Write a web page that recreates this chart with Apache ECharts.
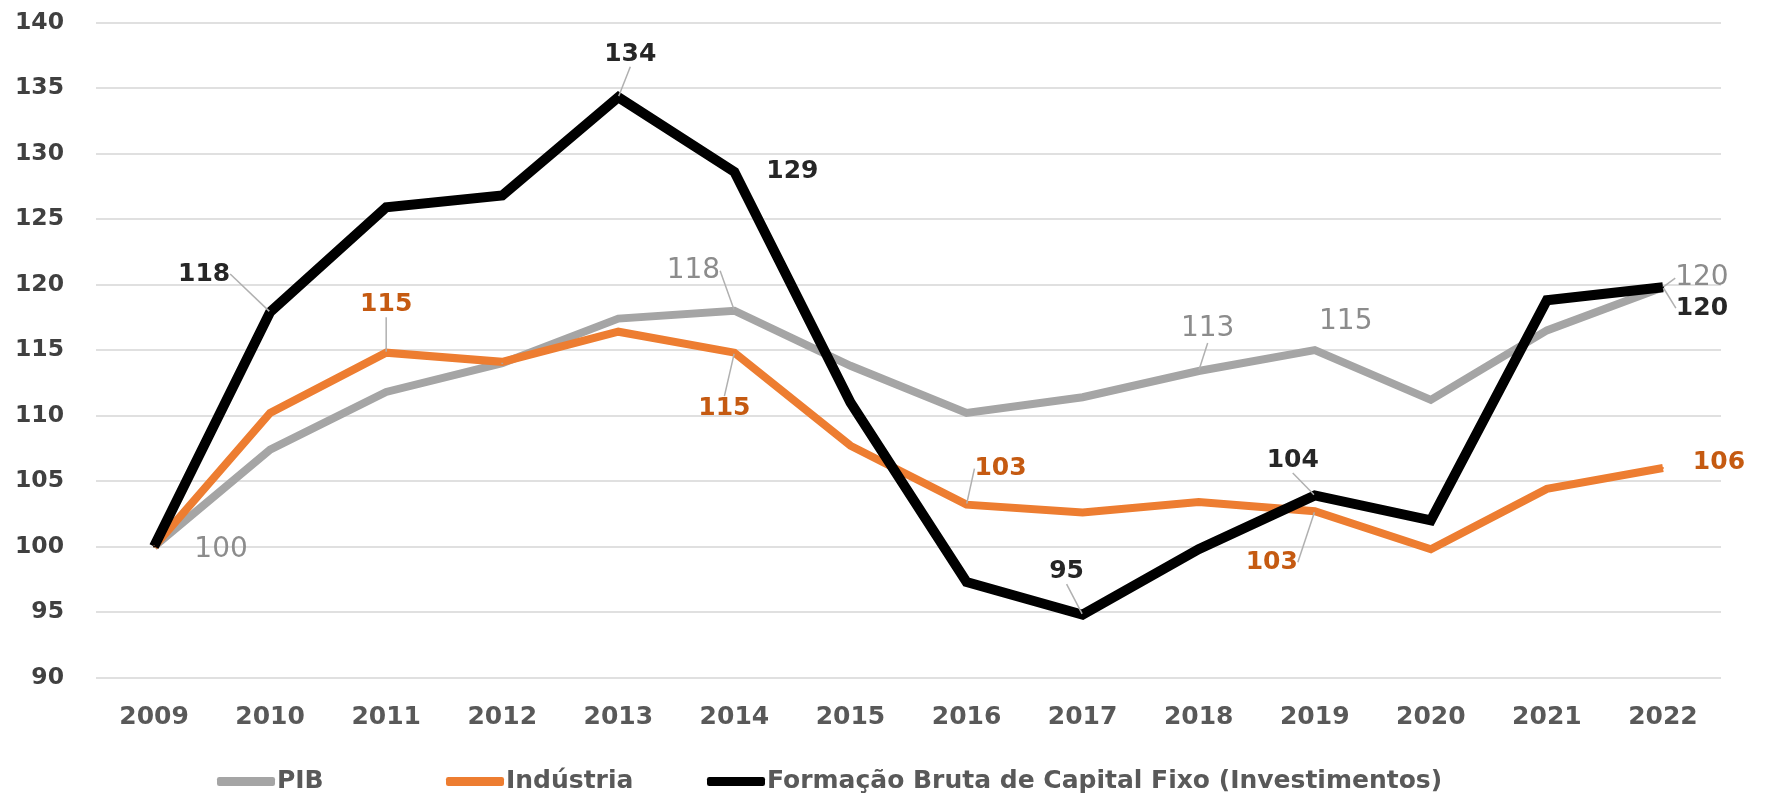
<!DOCTYPE html>
<html>
<head>
<meta charset="utf-8">
<script src="https://cdn.jsdelivr.net/npm/echarts@6/dist/echarts.min.js"></script>
<style>
  html, body { margin: 0; padding: 0; background: #fff; }
  #chart { width: 1767px; height: 796px; }
</style>
</head>
<body>
<div id="chart"></div>
<script>
// anos (eixo x)
var years = ['2009', '2010', '2011', '2012', '2013', '2014', '2015',
             '2016', '2017', '2018', '2019', '2020', '2021', '2022'];
// índices, 2009 = 100
var pib = [100, 107.4, 111.8, 114.0, 117.4, 118.0, 113.8, 110.2, 111.4, 113.4, 115.0, 111.2, 116.5, 119.8];
var industria = [100, 110.2, 114.8, 114.1, 116.4, 114.8, 107.7, 103.2, 102.6, 103.4, 102.7, 99.8, 104.4, 106.0];
var fbcf = [100, 117.9, 125.9, 126.8, 134.3, 128.6, 111.0, 97.3, 94.8, 99.8, 103.9, 102.0, 118.8, 119.8];
// pontos com rótulo
var pibLabelIdx = [0, 5, 9, 10, 13];
var industriaLabelIdx = [2, 5, 7, 10, 13];
var fbcfLabelIdx = [1, 4, 5, 8, 10, 13];
var yTicks = [90, 140, 5];
var seriesNames = ['PIB', 'Indústria', 'Formação Bruta de Capital Fixo (Investimentos)'];

var FONT = '"DejaVu Sans", Verdana, sans-serif';

/**
 * deslocamento de cada rótulo em relação ao ponto
 */
var labelOffsets = {
    pib: {0: [67, 3], 5: [-41, -40], 9: [9, -42], 10: [31, -28], 13: [39, -9]},
    ind: {2: [0, -48], 5: [-10, 56], 7: [34, -36], 10: [-43, 51], 13: [56, -5]},
    fbcf: {1: [-66, -38], 4: [12, -43], 5: [58, 0], 8: [-16, -43], 10: [-22, -35], 13: [39, 21]}
};
// pontos sem linha guia
var noGuide = {pib: [0, 10], ind: [13], fbcf: [5]};

function buildData(values, labelIdx, key) {
    return values.map(function (v, i) {
        var d = {
            value: v,
            label: {show: labelIdx.indexOf(i) >= 0}
        };
        if (noGuide[key].indexOf(i) >= 0) {
            d.labelLine = {show: false};
        }
        return d;
    });
}

function makeSeries(name, key, values, labelIdx, color, width, labelStyle) {
    return {
        name: name,
        type: 'line',
        data: buildData(values, labelIdx, key),
        symbol: 'circle',
        symbolSize: 2,
        showSymbol: true,
        lineStyle: {color: color, width: width, join: 'miter'},
        itemStyle: {color: color},
        emphasis: {disabled: true},
        label: Object.assign({
            position: 'inside',
            fontFamily: FONT,
            formatter: function (p) { return Math.round(p.value); }
        }, labelStyle),
        labelLine: {
            show: true,
            lineStyle: {color: '#b0b0b0', width: 1.5}
        },
        labelLayout: function (params) {
            var off = labelOffsets[key][params.dataIndex] || [0, 0];
            return {dx: off[0], dy: off[1], hideOverlap: false};
        }
    };
}

// uma legenda por série, para acertar as posições
function makeLegend(name, left) {
    return {
        left: left,
        top: 764,
        icon: 'roundRect',
        itemWidth: 58,
        itemHeight: 9,
        textStyle: {fontFamily: FONT, fontSize: 25, fontWeight: 'bold', color: '#595959', padding: [0, 0, 0, -3]},
        data: [name]
    };
}

var chart = echarts.init(document.getElementById('chart'));

var option = {
    backgroundColor: '#ffffff',
    animation: false,
    grid: {left: 96, right: 46, top: 22.5, bottom: 118.4},
    legend: [
        makeLegend(seriesNames[0], 212),
        makeLegend(seriesNames[1], 441),
        makeLegend(seriesNames[2], 702)
    ],
    xAxis: {
        type: 'category',
        data: years,
        boundaryGap: true,
        axisLine: {show: false},
        axisTick: {show: false},
        axisLabel: {
            margin: 27,
            fontFamily: FONT, fontSize: 25, fontWeight: 'bold', color: '#595959'
        }
    },
    yAxis: {
        type: 'value',
        min: yTicks[0],
        max: yTicks[1],
        interval: yTicks[2],
        axisLine: {show: false},
        axisTick: {show: false},
        splitLine: {lineStyle: {color: '#e0e0e0', width: 2}},
        axisLabel: {
            margin: 32,
            fontFamily: FONT, fontSize: 23.5, fontWeight: 'bold', color: '#404040'
        }
    },
    series: [
        makeSeries(seriesNames[0], 'pib', pib, pibLabelIdx, '#a5a5a5', 8,
            {fontSize: 28, color: '#8c8c8c'}),
        makeSeries(seriesNames[1], 'ind', industria, industriaLabelIdx, '#ed7d31', 8,
            {fontSize: 25, fontWeight: 'bold', color: '#c55a11'}),
        makeSeries(seriesNames[2], 'fbcf', fbcf, fbcfLabelIdx, '#000000', 10,
            {fontSize: 25, fontWeight: 'bold', color: '#262626'})
    ]
};

chart.setOption(option);

window.addEventListener('resize', function () {
    chart.resize();
});
</script>
</body>
</html>
